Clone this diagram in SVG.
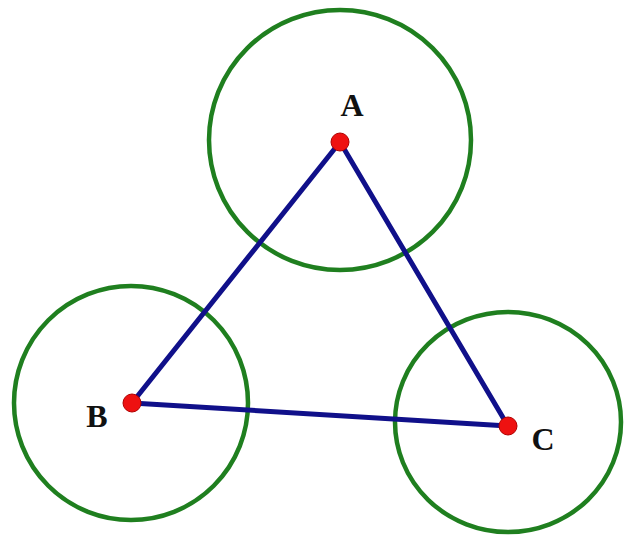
<svg xmlns="http://www.w3.org/2000/svg" width="633" height="541" viewBox="0 0 633 541">
<style>
.circ{fill:none;stroke:#1f7f1f;stroke-width:4.5}
.edge{stroke:#10108a;stroke-width:5;stroke-linecap:round}
.pt{fill:#ee1111;stroke:#b00000;stroke-width:1}
.lbl{font-family:"Liberation Serif",serif;font-weight:bold;font-size:32px;fill:#111}
</style>
<rect width="633" height="541" fill="#fff"/>
<g id="circles">
<ellipse class="circ" cx="340" cy="140" rx="131" ry="130"/>
<circle class="circ" cx="131" cy="403" r="117"/>
<ellipse class="circ" cx="508" cy="422" rx="113" ry="110"/>
</g>
<g id="connectors">
<line class="edge" x1="340" y1="142" x2="132" y2="403"/>
<line class="edge" x1="340" y1="142" x2="508" y2="426"/>
<line class="edge" x1="132" y1="403" x2="508" y2="426"/>
</g>
<g id="A"><circle class="pt" cx="340" cy="142" r="9"/><text class="lbl" x="352" y="116" text-anchor="middle">A</text></g>
<g id="B"><circle class="pt" cx="132" cy="403" r="9"/><text class="lbl" x="97" y="427" text-anchor="middle">B</text></g>
<g id="C"><circle class="pt" cx="508" cy="426" r="9"/><text class="lbl" x="543" y="450" text-anchor="middle">C</text></g>
</svg>
